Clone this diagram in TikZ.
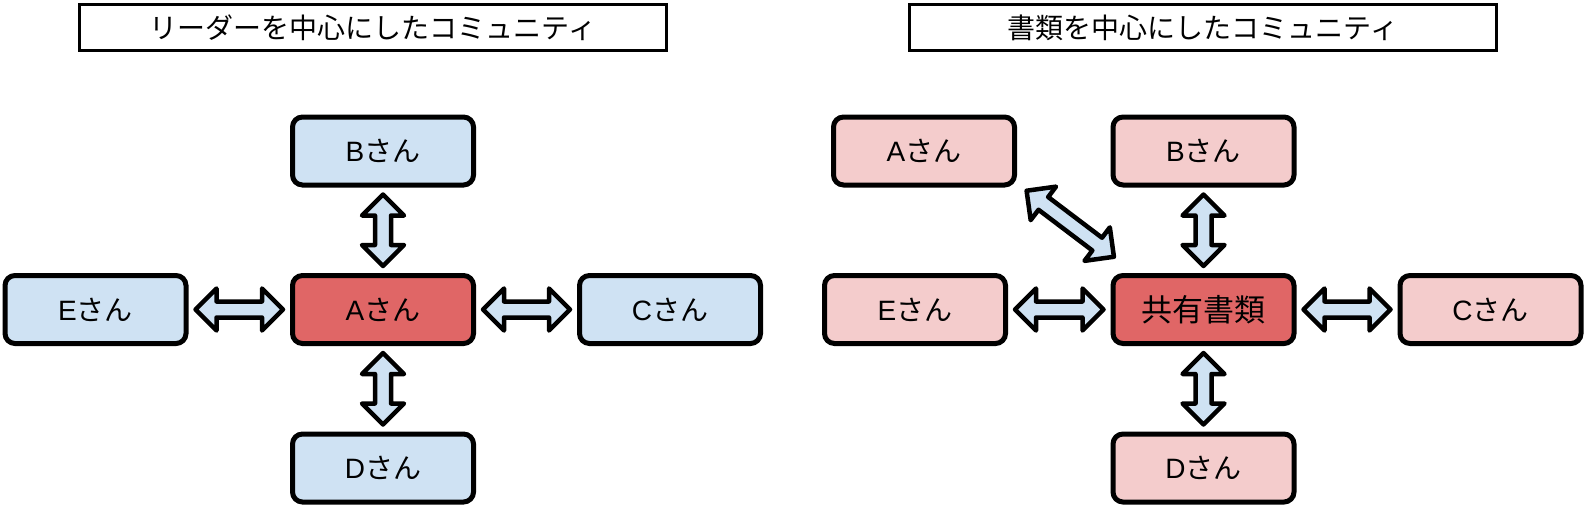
\documentclass[tikz,border=0pt]{standalone}
\usepackage{fontspec}
\setmainfont{Noto Sans CJK JP}
\newfontfamily\arial{Liberation Sans}
\usetikzlibrary{calc}
\definecolor{boxblue}{RGB}{207,226,243}
\definecolor{boxred}{RGB}{224,102,102}
\definecolor{boxpink}{RGB}{244,204,204}
\newcommand{\san}[1]{{\arial #1}さん}
\tikzset{
  person/.style={draw, line width=5pt, rounded corners=10pt, minimum width=181pt,
    minimum height=68pt, inner sep=0pt, font=\fontsize{28}{32}\selectfont},
  titlebox/.style={draw, line width=3pt, minimum width=587pt, minimum height=46pt,
    inner sep=0pt, font=\fontsize{28}{34}\selectfont},
  fat arrow/.style={draw, line width=4.5pt, line join=round, fill=boxblue, to path={
    ($(\tikztostart)!7pt!(\tikztotarget)$) coordinate (s)
    ($(\tikztotarget)!7pt!(\tikztostart)$) coordinate (t)
    (s) -- ($(s)!21pt!(t)!21pt!90:(t)$) -- ($(s)!21pt!(t)!8pt!90:(t)$)
    -- ($(t)!21pt!(s)!8pt!-90:(s)$) -- ($(t)!21pt!(s)!21pt!-90:(s)$) -- (t)
    -- ($(t)!21pt!(s)!21pt!90:(s)$) -- ($(t)!21pt!(s)!8pt!90:(s)$)
    -- ($(s)!21pt!(t)!8pt!-90:(t)$) -- ($(s)!21pt!(t)!21pt!-90:(t)$) -- cycle}}
}
\begin{document}
\begin{tikzpicture}[x=1pt, y=-1pt]
\useasboundingbox (0,0) rectangle (1586,511);
\node[titlebox] (leader) at (373,27.5) {リーダーを中心にしたコミュニティ};
\node[titlebox] (shorui) at (1203,28) {書類を中心にしたコミュニティ};

\node[person, fill=boxred] (a) at (383,309.5) {\san{A}};
\node[person, fill=boxblue] (b) at (383,151) {\san{B}};
\node[person, fill=boxblue] (c) at (670,309.5) {\san{C}};
\node[person, fill=boxblue] (d) at (383,468) {\san{D}};
\node[person, fill=boxblue] (e) at (95.5,309.5) {\san{E}};
\draw[fat arrow] (b.south) to (a.north);
\draw[fat arrow] (a.south) to (d.north);
\draw[fat arrow] (e.east) to (a.west);
\draw[fat arrow] (a.east) to (c.west);

\node[person, fill=boxred, font=\fontsize{31}{36}\selectfont] (doc) at (1203.5,309.5) {共有書類};
\node[person, fill=boxpink] (a2) at (924,151) {\san{A}};
\node[person, fill=boxpink] (b2) at (1203.5,151) {\san{B}};
\node[person, fill=boxpink] (c2) at (1490.5,309.5) {\san{C}};
\node[person, fill=boxpink] (d2) at (1203.5,468) {\san{D}};
\node[person, fill=boxpink] (e2) at (915,309.5) {\san{E}};
\draw[fat arrow] ([shift={(4,-1)}]a2.south east) to ([shift={(9,-12)}]doc.north west);
\draw[fat arrow] (b2.south) to (doc.north);
\draw[fat arrow] (doc.south) to (d2.north);
\draw[fat arrow] (e2.east) to (doc.west);
\draw[fat arrow] (doc.east) to (c2.west);
\end{tikzpicture}
\end{document}
